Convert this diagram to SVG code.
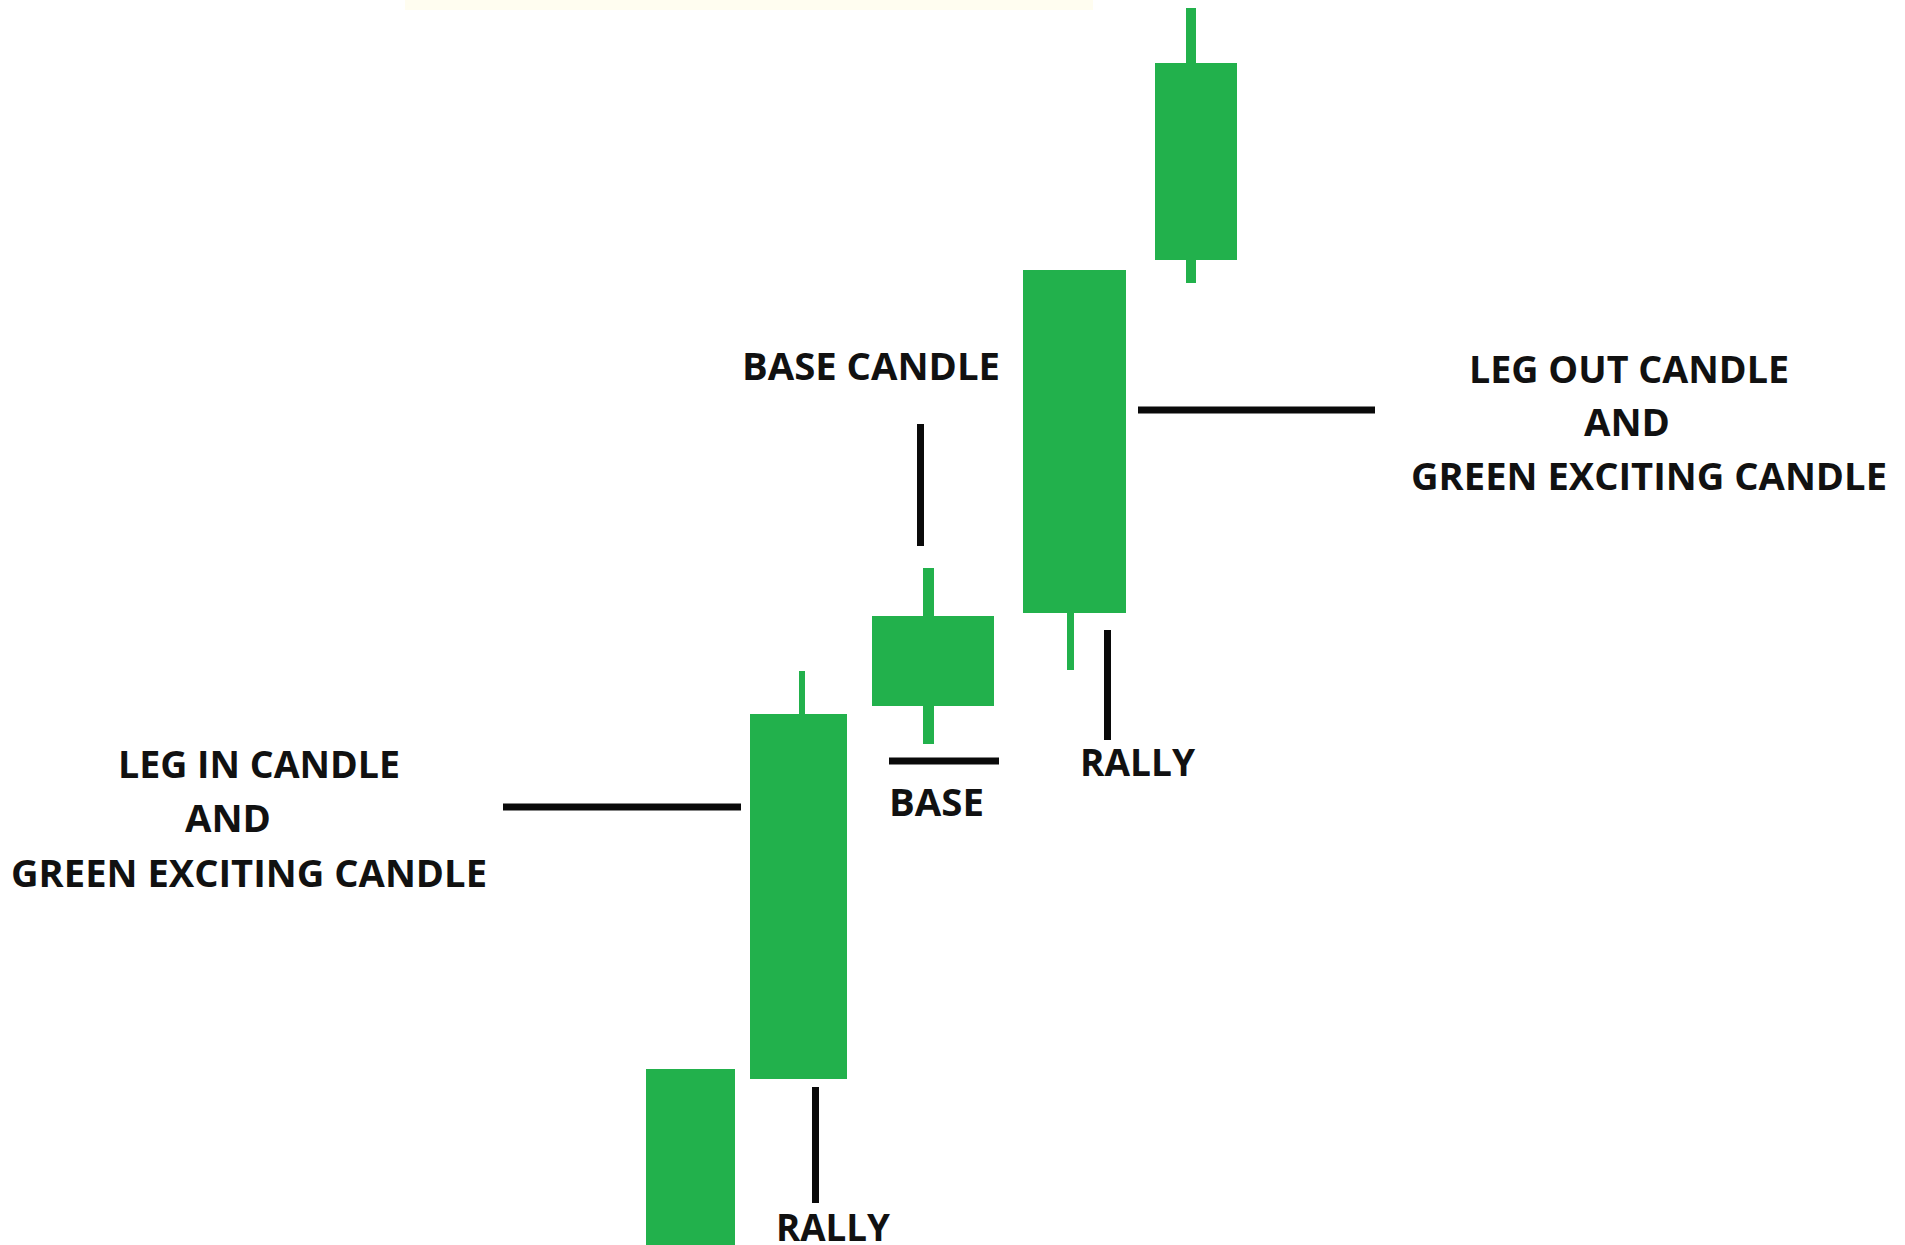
<svg xmlns="http://www.w3.org/2000/svg" width="1905" height="1245" viewBox="0 0 1905 1245">
  <style>
    .body { fill: #22b14c; }
    .wick { fill: #22b14c; }
    .lead { stroke: #0a0a0a; stroke-width: 7; fill: none; }
    .lbl { font-family: "Open Sans", "Liberation Sans", sans-serif; font-weight: 700; font-size: 38px; fill: #111111; }
  </style>
  <rect width="1905" height="1245" fill="#ffffff"/>
  <!-- faint strip along the top edge -->
  <rect x="405" y="0" width="688" height="10" fill="#fffdf0"/>

  <!-- candles, left to right -->
  <g id="candle-1">
    <rect class="body" x="646" y="1069" width="89" height="176"/>
  </g>
  <g id="candle-leg-in">
    <rect class="wick" x="799" y="671" width="6" height="45"/>
    <rect class="body" x="750" y="714" width="97" height="365"/>
  </g>
  <g id="candle-base">
    <rect class="wick" x="923" y="568" width="11" height="176"/>
    <rect class="body" x="872" y="616" width="122" height="90"/>
  </g>
  <g id="candle-leg-out">
    <rect class="wick" x="1067" y="611" width="7" height="59"/>
    <rect class="body" x="1023" y="270" width="103" height="343"/>
  </g>
  <g id="candle-5">
    <rect class="wick" x="1186" y="8" width="10" height="275"/>
    <rect class="body" x="1155" y="63" width="82" height="197"/>
  </g>

  <!-- leader lines -->
  <g id="connectors">
    <line class="lead" x1="503" y1="807" x2="741" y2="807"/>
    <line class="lead" x1="1138" y1="410" x2="1375" y2="410"/>
    <line class="lead" x1="920.5" y1="424" x2="920.5" y2="546"/>
    <line class="lead" x1="889" y1="761" x2="999" y2="761"/>
    <line class="lead" x1="1107.5" y1="630" x2="1107.5" y2="740"/>
    <line class="lead" x1="815.5" y1="1087" x2="815.5" y2="1203"/>
  </g>

  <!-- labels -->
  <g id="label-base-candle">
    <text class="lbl" x="742" y="380" textLength="258" lengthAdjust="spacingAndGlyphs">BASE CANDLE</text>
  </g>
  <g id="label-rally-right">
    <text class="lbl" x="1080" y="776" textLength="115" lengthAdjust="spacingAndGlyphs">RALLY</text>
  </g>
  <g id="label-base">
    <text class="lbl" x="889" y="816" textLength="95" lengthAdjust="spacingAndGlyphs">BASE</text>
  </g>
  <g id="label-rally-bottom">
    <text class="lbl" x="776" y="1241" textLength="114" lengthAdjust="spacingAndGlyphs">RALLY</text>
  </g>
  <g id="label-leg-in">
    <text class="lbl" x="118" y="778" textLength="282" lengthAdjust="spacingAndGlyphs">LEG IN CANDLE</text>
    <text class="lbl" x="185" y="832" textLength="86" lengthAdjust="spacingAndGlyphs">AND</text>
    <text class="lbl" x="11" y="887" textLength="476" lengthAdjust="spacingAndGlyphs">GREEN EXCITING CANDLE</text>
  </g>
  <g id="label-leg-out">
    <text class="lbl" x="1469" y="383" textLength="320" lengthAdjust="spacingAndGlyphs">LEG OUT CANDLE</text>
    <text class="lbl" x="1584" y="436" textLength="86" lengthAdjust="spacingAndGlyphs">AND</text>
    <text class="lbl" x="1411" y="490" textLength="476" lengthAdjust="spacingAndGlyphs">GREEN EXCITING CANDLE</text>
  </g>
</svg>
